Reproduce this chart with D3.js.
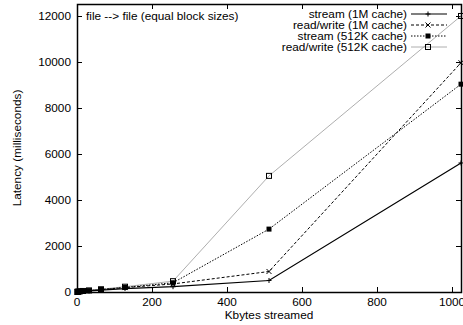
<!DOCTYPE html>
<html>
<head>
<meta charset="utf-8">
<script src="https://cdn.jsdelivr.net/npm/d3@7"></script>
<style>
  body { margin: 0; background: #fff; }
  svg text { font-family: "Liberation Sans", Arial, sans-serif; font-size: 11.8px; fill: #000; }
</style>
</head>
<body>
<div id="chart"></div>
<script>
// data
const kbytes = [1, 2, 4, 8, 16, 32, 64, 128, 256, 512, 1024];
const stream1M = [5, 8, 12, 20, 30, 45, 80, 150, 230, 500, 5600];
const readWrite1M = [6, 10, 15, 25, 40, 60, 100, 190, 350, 890, 9950];
const stream512K = [6, 10, 15, 25, 40, 60, 110, 200, 400, 2730, 9020];
const readWrite512K = [8, 12, 18, 30, 45, 70, 120, 230, 470, 5040, 11980];
const xTicks = [0, 200, 400, 600, 800, 1000];
const yTicks = [0, 2000, 4000, 6000, 8000, 10000, 12000];

const series = [
    { name: 'stream (1M cache)', values: stream1M, dash: null, color: '#000', width: 1.2, marker: 'plus' },
    { name: 'read/write (1M cache)', values: readWrite1M, dash: '3,2', color: '#000', width: 1, marker: 'cross' },
    { name: 'stream (512K cache)', values: stream512K, dash: '1.5,1.5', color: '#000', width: 1, marker: 'filled' },
    { name: 'read/write (512K cache)', values: readWrite512K, dash: null, color: '#999', width: 0.8, marker: 'box' }
];

const width = 463, height = 325;
const mLeft = 77, mRight = 461, mTop = 4, mBottom = 292;

const x = d3.scaleLinear().domain([0, 1024]).range([mLeft, mRight]);
const y = d3.scaleLinear().domain([0, 12500]).range([mBottom, mTop]);

const svg = d3.select('#chart').append('svg')
    .attr('width', width)
    .attr('height', height);

// ticks (gnuplot style, inward and mirrored)
const tickLen = 5;
const ticks = svg.append('g').attr('stroke', '#000').attr('stroke-width', 1);
xTicks.forEach(t => {
    const px = Math.round(x(t)) + 0.5;
    ticks.append('line').attr('x1', px).attr('x2', px).attr('y1', mBottom).attr('y2', mBottom - tickLen);
    ticks.append('line').attr('x1', px).attr('x2', px).attr('y1', mTop).attr('y2', mTop + tickLen);
});
yTicks.forEach(t => {
    const py = Math.round(y(t)) + 0.5;
    ticks.append('line').attr('x1', mLeft).attr('x2', mLeft + tickLen).attr('y1', py).attr('y2', py);
    ticks.append('line').attr('x1', mRight).attr('x2', mRight - tickLen).attr('y1', py).attr('y2', py);
});

svg.append('g')
    .selectAll('text')
    .data(xTicks)
    .join('text')
    .attr('x', d => x(d))
    .attr('y', mBottom + 14)
    .attr('text-anchor', 'middle')
    .text(d => d);

svg.append('g')
    .selectAll('text')
    .data(yTicks)
    .join('text')
    .attr('x', mLeft - 6)
    .attr('y', d => y(d) + 4)
    .attr('text-anchor', 'end')
    .text(d => d);

// axis titles
svg.append('text')
    .attr('x', (mLeft + mRight) / 2)
    .attr('y', mBottom + 27)
    .attr('text-anchor', 'middle')
    .text('Kbytes streamed');

svg.append('text')
    .attr('transform', `translate(21,${(mTop + mBottom) / 2}) rotate(-90)`)
    .attr('text-anchor', 'middle')
    .text('Latency (milliseconds)');

svg.append('text')
    .attr('x', mLeft + 9)
    .attr('y', y(12000) + 4)
    .text('file --> file (equal block sizes)');

// markers
function drawMarker(g, kind, cx, cy, color) {
    const s = 2.5;
    if (kind === 'plus') {
        g.append('path').attr('d', `M${cx - s},${cy}H${cx + s}M${cx},${cy - s}V${cy + s}`)
            .attr('stroke', '#000').attr('stroke-width', 1).attr('fill', 'none');
    } else if (kind === 'cross') {
        g.append('path').attr('d', `M${cx - s},${cy - s}L${cx + s},${cy + s}M${cx - s},${cy + s}L${cx + s},${cy - s}`)
            .attr('stroke', '#000').attr('stroke-width', 1).attr('fill', 'none');
    } else if (kind === 'filled') {
        g.append('rect').attr('x', cx - s).attr('y', cy - s).attr('width', 2 * s).attr('height', 2 * s)
            .attr('fill', '#000');
    } else {
        g.append('rect').attr('x', cx - s).attr('y', cy - s).attr('width', 2 * s).attr('height', 2 * s)
            .attr('fill', 'none').attr('stroke', '#000').attr('stroke-width', 1);
    }
}

const line = d3.line()
    .x(d => x(d[0]))
    .y(d => y(d[1]));

const plot = svg.append('g');
series.slice().reverse().forEach(s => {
    const pts = kbytes.map((k, i) => [k, s.values[i]]);
    plot.append('path')
        .attr('d', line(pts))
        .attr('fill', 'none')
        .attr('stroke', s.color)
        .attr('stroke-width', s.width)
        .attr('stroke-dasharray', s.dash);
    const mg = plot.append('g');
    pts.forEach(p => drawMarker(mg, s.marker, x(p[0]), y(p[1]), s.color));
});

// legend
const legend = svg.append('g');
series.forEach((s, i) => {
    const ly = 14 + i * 11;
    legend.append('text')
        .attr('x', 407)
        .attr('y', ly + 4)
        .attr('text-anchor', 'end')
        .text(s.name);
    legend.append('line')
        .attr('x1', 411).attr('x2', 447)
        .attr('y1', ly).attr('y2', ly)
        .attr('stroke', s.color)
        .attr('stroke-width', s.width)
        .attr('stroke-dasharray', s.dash);
    drawMarker(legend, s.marker, 428, ly, s.color);
});

// border
svg.append('rect')
    .attr('x', mLeft + 0.5).attr('y', mTop + 0.5)
    .attr('width', mRight - mLeft).attr('height', mBottom - mTop)
    .attr('fill', 'none')
    .attr('stroke', '#000')
    .attr('stroke-width', 1.5);
</script>
</body>
</html>
